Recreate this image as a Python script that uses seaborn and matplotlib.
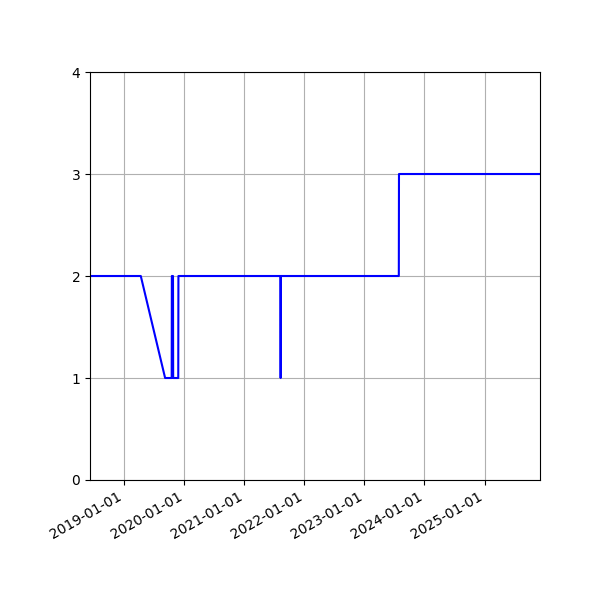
import matplotlib
matplotlib.use("Agg")
import matplotlib.pyplot as plt
import matplotlib.dates as mdates
import seaborn as sns
import pandas as pd

dates = ["2018-06-06", "2019-04-11", "2019-09-06", "2019-10-16", "2019-10-17",
         "2019-10-24", "2019-10-25", "2019-11-25", "2019-11-26", "2021-08-08",
         "2021-08-09", "2021-08-10", "2023-07-29", "2023-07-30", "2025-12-04"]
values = [2, 2, 1, 1, 2, 2, 1, 1, 2, 2, 1, 2, 2, 3, 3]

df = pd.DataFrame({"date": pd.to_datetime(dates), "value": values})

fig, ax = plt.subplots(figsize=(6, 6), dpi=100)
fig.subplots_adjust(left=0.15, right=0.9, top=0.88, bottom=0.2)
sns.lineplot(data=df, x="date", y="value", color="blue", linewidth=1.5,
             estimator=None, sort=False, ax=ax)
ax.set_xlim(df["date"].min(), df["date"].max())
ax.set_ylim(0, 4)
ax.set_yticks([0, 1, 2, 3, 4])
ax.xaxis.set_major_locator(mdates.YearLocator())
ax.xaxis.set_major_formatter(mdates.DateFormatter("%Y-%m-%d"))
ax.grid(True)
ax.set_xlabel("")
ax.set_ylabel("")
for lbl in ax.get_xticklabels():
    lbl.set_rotation(30)
    lbl.set_ha("right")
fig.savefig("out.png", dpi=100)
